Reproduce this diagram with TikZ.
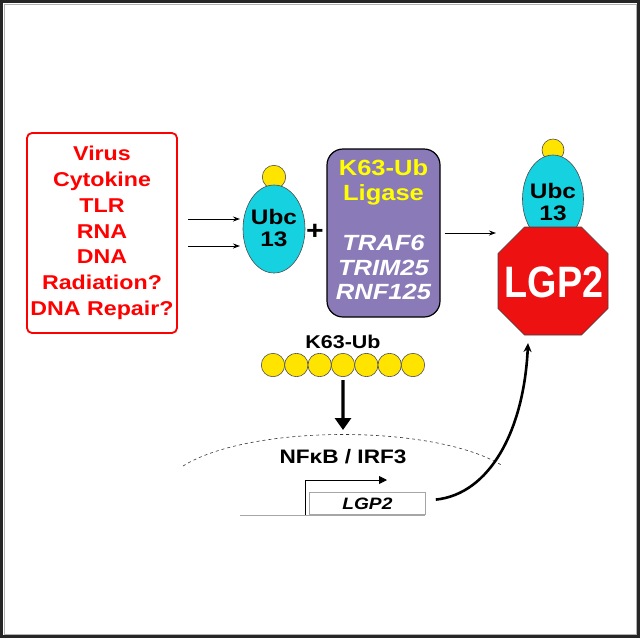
\documentclass[tikz,border=0pt]{standalone}
\usepackage{fontspec}
\setmainfont{Liberation Sans}[FakeStretch=1.16]
\usetikzlibrary{arrows.meta,shapes.geometric}
\definecolor{ubccyan}{RGB}{22,210,224}
\definecolor{ubyellow}{RGB}{255,228,0}
\definecolor{ligpurple}{RGB}{138,122,184}
\definecolor{lgpred}{RGB}{238,17,17}
\definecolor{listred}{RGB}{255,0,0}
\definecolor{ligyellow}{RGB}{255,255,0}
\begin{document}
\begin{tikzpicture}[x=1pt,y=1pt,
  ubball/.style={circle, fill=ubyellow, draw=gray!60!black, line width=0.6pt, minimum size=23.4pt, inner sep=0pt},
  ubcshape/.style={ellipse, fill=ubccyan, draw=gray!60!black, line width=0.6pt, minimum width=62pt, minimum height=88pt, inner sep=0pt},
  ubctext/.style={font=\bfseries\fontsize{21}{22}\selectfont, align=center, inner sep=0pt},
  thinarrow/.style={line width=0.9pt, -{Stealth[length=7pt,width=5pt]}},
  bigarrow/.style={line width=3.2pt, -{Triangle[length=12pt,width=16pt]}},
  curvearrow/.style={line width=2.6pt, -{Stealth[length=9pt,width=8pt]}}
]
\useasboundingbox (0,0) rectangle (640,-638);
% frame
\draw[line width=3pt, black!85] (1.5,-1.5) rectangle (638.5,-636.5);
\draw[line width=0.7pt, gray!60] (4,-4) rectangle (636,-634);

% stimulus box
\node[draw=listred, line width=1.8pt, rounded corners=5pt, minimum width=150pt, minimum height=200pt,
      text=listred, font=\bfseries\fontsize{20}{25.8}\selectfont, align=center] (stim) at (102,-233)
  {Virus\\Cytokine\\TLR\\RNA\\DNA\\Radiation?\\DNA Repair?};

% left Ubc13
\node[ubball] (ubA) at (274,-177) {};
\node[ubcshape] (ubcA) at (274,-229) {};
\node[ubctext] (ubcAtext) at (274,-228) {Ubc\\13};

\coordinate (inA1) at (188,-219);
\coordinate (inA2) at (188,-246);
\coordinate (inA1e) at (240,-219);
\coordinate (inA2e) at (240,-246);
\draw[thinarrow] (inA1) -- (inA1e);
\draw[thinarrow] (inA2) -- (inA2e);

\node[font=\bfseries\fontsize{26}{26}\selectfont, inner sep=0pt] (plus) at (315,-232) {+};

% ligase
\node[draw=black, line width=1.2pt, fill=ligpurple, rounded corners=16pt, minimum width=113pt, minimum height=168pt] (lig) at (383.5,-233) {};
\node[text=ligyellow, font=\bfseries\fontsize{22}{25}\selectfont, align=center, inner sep=0pt] (ligtitle) at (383.5,-182.5) {K63-Ub\\Ligase};
\node[text=white, font=\bfseries\itshape\fontsize{22}{24.5}\selectfont, align=center, inner sep=0pt] (ligmem) at (383.5,-267.5) {TRAF6\\TRIM25\\RNF125};

\coordinate (lgpin) at (496,-233);
\draw[thinarrow] ([xshift=4pt]lig.east) -- (lgpin);

% right Ubc13 + LGP2
\node[ubball, minimum size=22pt] (ubB) at (553,-150) {};
\node[ubcshape, minimum width=61pt] (ubcB) at (553,-199) {};
\node[ubctext] (ubcBtext) at (553,-202.5) {Ubc\\13};
\fill[lgpred, draw=gray!50!black, line width=0.6pt]
  (524.5,-227) -- (581.5,-227) -- (608,-253.5) -- (608,-308.5) -- (581.5,-335) -- (524.5,-335) -- (498,-308.5) -- (498,-253.5) -- cycle;
\node[text=white, font=\bfseries\fontsize{44}{44}\selectfont, inner sep=0pt] (lgp) at (554,-282) {\scalebox{0.74}[1]{LGP2}};

% K63 chain
\node[font=\bfseries\fontsize{18.5}{18.5}\selectfont, inner sep=0pt] (k63) at (343,-342) {K63-Ub};
\foreach \i in {1,...,7} {
  \node[ubball] (ub\i) at ({273+23.33*(\i-1)},-365) {};
}
\coordinate (nuctop) at (343,-430);
\draw[bigarrow] ([yshift=-3pt]ub4.south) -- (nuctop);

% nucleus
\coordinate (nucL) at (183,-466);
\coordinate (nucR) at (503,-466);
\draw[dashed, dash pattern=on 3pt off 3pt, line width=0.6pt, gray!40!black] (nucL) .. controls (250,-424) and (436,-424) .. (nucR);
\node[font=\bfseries\fontsize{19.5}{19.5}\selectfont, inner sep=0pt] (nfkb) at (343,-457) {NFκB / IRF3};

% gene
\coordinate (dnaL) at (240,-515);
\coordinate (dnaR) at (425,-515);
\draw[gray!70, line width=0.8pt] (dnaL) -- (dnaR);
\node[draw=gray!70, line width=0.8pt, fill=white, minimum width=116pt, minimum height=22pt, inner sep=0pt, anchor=south west,
      font=\bfseries\itshape\fontsize{16.5}{16.5}\selectfont] (gene) at (309,-515) {LGP2};
\coordinate (prom) at (305,-515);
\coordinate (tss) at (387,-480);
\draw[line width=0.8pt, -{Triangle[length=8pt,width=8pt]}] (prom) |- (tss);

\coordinate (lgpout) at (528,-343);
\draw[curvearrow] ([xshift=10pt,yshift=4pt]gene.east) .. controls (490,-494) and (524,-430) .. (lgpout);
\end{tikzpicture}
\end{document}
